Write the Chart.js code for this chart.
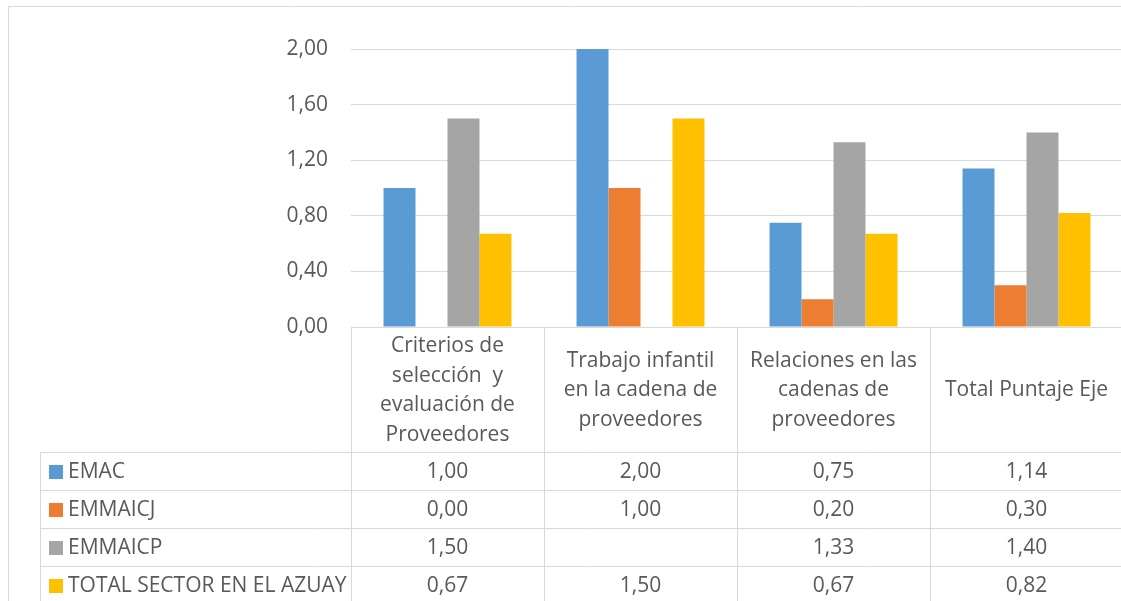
<!DOCTYPE html>
<html>
<head>
<meta charset="utf-8">
<script src="https://cdn.jsdelivr.net/npm/chart.js@4.4.1/dist/chart.umd.min.js"></script>
<style>
  html, body { margin:0; padding:0; background:#fff; overflow:hidden; }
  #wrap { position:absolute; left:0; top:0; width:1140px; height:601px; }
</style>
</head>
<body>
<div id="wrap"><canvas id="chart"></canvas></div>
<script>
// categories (header lines of the data table)
const categories = [
    ['Criterios de', 'selección  y', 'evaluación de', 'Proveedores'],
    ['Trabajo infantil', 'en la cadena de', 'proveedores'],
    ['Relaciones en las', 'cadenas de', 'proveedores'],
    ['Total Puntaje Eje']
];
const seriesNames = ['EMAC', 'EMMAICJ', 'EMMAICP', 'TOTAL SECTOR EN EL AZUAY'];
const emac     = [1.00, 2.00, 0.75, 1.14];
const emmaicj  = [0.00, 1.00, 0.20, 0.30];
const emmaicp  = [1.50, null, 1.33, 1.40];
const totalAz  = [0.67, 1.50, 0.67, 0.82];
const yTicks   = [0, 0.4, 0.8, 1.2, 1.6, 2.0];
const colors   = ['#5B9BD5', '#ED7D31', '#A5A5A5', '#FFC000'];

const FONT = '"Open Sans", sans-serif';
const TXT = '#595959', LINE = '#D9D9D9';
const fmt = v => v == null ? '' : v.toFixed(2).replace('.', ',');

// draws the outer frame + data table under the plot, using the chart's x scale
const tablePlugin = {
    id: 'dataTable',
    afterDraw(chart) {
        const ctx = chart.ctx, x = chart.scales.x, area = chart.chartArea;
        const n = categories.length;
        const w = (area.right - area.left) / n;
        const top = area.bottom, headH = 125, rowH = 38, tableLeft = 40;
        const far = chart.width + 10;
        ctx.save();
        ctx.strokeStyle = LINE; ctx.lineWidth = 1;
        // outer chart frame
        ctx.beginPath();
        ctx.moveTo(8.5, chart.height); ctx.lineTo(8.5, 6.5); ctx.lineTo(far, 6.5);
        ctx.stroke();
        // header lines
        ctx.beginPath();
        ctx.moveTo(area.left, top + 0.5); ctx.lineTo(far, top + 0.5);
        for (let i = 0; i <= n; i++) {
            const bx = Math.round(area.left + i * w) + 0.5;
            ctx.moveTo(bx, top); ctx.lineTo(bx, chart.height);
        }
        // row lines
        for (let r = 0; r <= seriesNames.length; r++) {
            const ry = Math.round(top + headH + r * rowH) + 0.5;
            ctx.moveTo(tableLeft, ry); ctx.lineTo(far, ry);
        }
        ctx.moveTo(tableLeft + 0.5, top + headH); ctx.lineTo(tableLeft + 0.5, chart.height);
        ctx.stroke();

        ctx.fillStyle = TXT;
        ctx.textAlign = 'center'; ctx.textBaseline = 'middle';
        ctx.font = '21px ' + FONT;
        // header text
        categories.forEach((lines, i) => {
            const cx = x.getPixelForValue(i);
            const lh = 29.5, cy = top + headH / 2 + 1;
            lines.forEach((t, k) => ctx.fillText(t, cx, cy + (k - (lines.length - 1) / 2) * lh));
        });
        // rows
        const rows = [emac, emmaicj, emmaicp, totalAz];
        rows.forEach((vals, r) => {
            const cy = top + headH + r * rowH + rowH / 2 + 1;
            ctx.fillStyle = colors[r];
            ctx.fillRect(49, Math.round(cy - 7), 14, 14);
            ctx.fillStyle = TXT;
            ctx.textAlign = 'left';
            ctx.fillText(seriesNames[r], 68, cy);
            ctx.textAlign = 'center';
            vals.forEach((v, i) => ctx.fillText(fmt(v), x.getPixelForValue(i), cy));
        });
        ctx.restore();
    }
};

function draw() {
    const data = [emac, emmaicj, emmaicp, totalAz];
    new Chart(document.getElementById('chart'), {
        type: 'bar',
        data: {
            labels: categories.map(c => c.join(' ')),
            datasets: seriesNames.map((name, i) => ({
                label: name, data: data[i], backgroundColor: colors[i],
                borderWidth: 0, categoryPercentage: 0.663, barPercentage: 1
            }))
        },
        options: {
            responsive: true, maintainAspectRatio: false, animation: false,
            layout: { padding: { top: 49, bottom: 274, left: 0, right: 17 } },
            plugins: { legend: { display: false }, tooltip: { enabled: false } },
            scales: {
                x: { display: false },
                y: {
                    min: 0, max: 2,
                    afterFit: s => { s.width = 351; },
                    afterBuildTicks: s => { s.ticks = yTicks.map(v => ({ value: v })); },
                    border: { display: false },
                    grid: { color: LINE, lineWidth: 1, drawTicks: false },
                    ticks: { padding: 23, color: TXT, font: { family: FONT, size: 21 },
                             callback: v => fmt(v) }
                }
            }
        },
        plugins: [tablePlugin]
    });
}

document.fonts.load('21px "Open Sans"').then(draw, draw);
</script>
</body>
</html>
